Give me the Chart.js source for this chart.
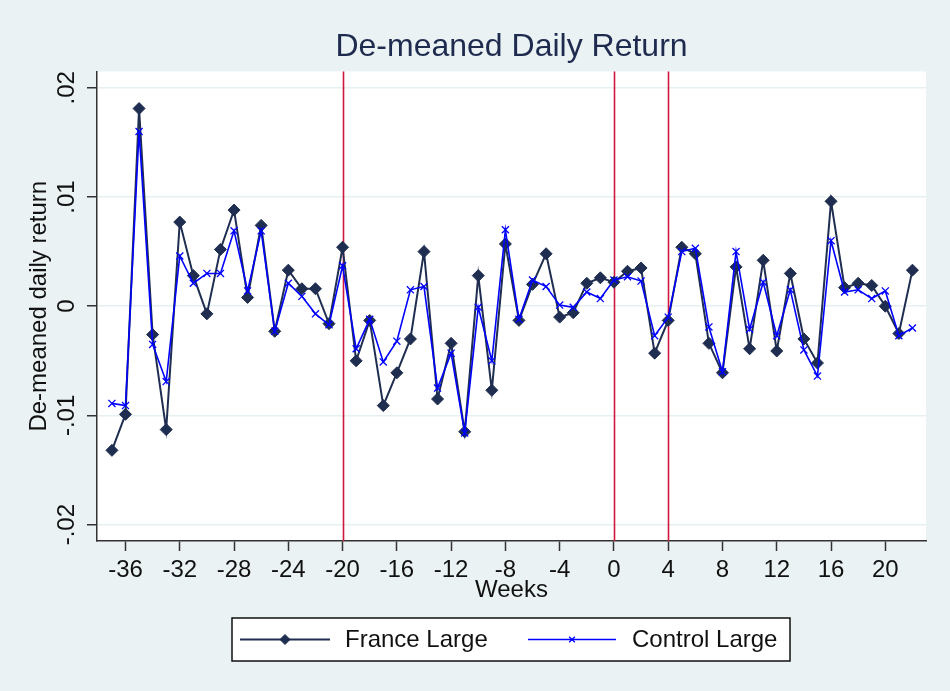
<!DOCTYPE html>
<html>
<head>
<meta charset="utf-8">
<script src="https://cdn.jsdelivr.net/npm/chart.js@4.4.1/dist/chart.umd.min.js"></script>
<style>
  body { margin: 0; background: #eaf2f3; }
  canvas { display: block; }
</style>
</head>
<body>
<canvas id="retChart" width="950" height="691"></canvas>
<script>
// weeks relative to the event
const weeks = [-37, -36, -35, -34, -33, -32, -31, -30, -29, -28, -27, -26, -25, -24, -23, -22, -21, -20, -19, -18,
  -17, -16, -15, -14, -13, -12, -11, -10, -9, -8, -7, -6, -5, -4, -3, -2, -1, 0, 1, 2,
  3, 4, 5, 6, 7, 8, 9, 10, 11, 12, 13, 14, 15, 16, 17, 18, 19, 20, 21, 22];

const franceLarge = [-0.0132, -0.0099, 0.0181, -0.0026, -0.0113, 0.0077, 0.0028, -0.0007, 0.0052, 0.0088,
  0.0008, 0.0074, -0.0023, 0.0033, 0.0016, 0.0016, -0.0016, 0.0054, -0.0050, -0.0013,
  -0.0091, -0.0061, -0.0030, 0.0050, -0.0085, -0.0034, -0.0115, 0.0028, -0.0077, 0.0057,
  -0.0013, 0.0020, 0.0048, -0.0010, -0.0006, 0.0021, 0.0026, 0.0022, 0.0032, 0.0035,
  -0.0043, -0.0013, 0.0054, 0.0048, -0.0034, -0.0061, 0.0036, -0.0039, 0.0042, -0.0041,
  0.0030, -0.0030, -0.0052, 0.0096, 0.0017, 0.0021, 0.0019, 0.0000, -0.0025, 0.0033];

const controlLarge = [-0.0089, -0.0091, 0.0160, -0.0035, -0.0069, 0.0046, 0.0021, 0.0030, 0.0030, 0.0069,
  0.0014, 0.0069, -0.0023, 0.0021, 0.0009, -0.0007, -0.0017, 0.0037, -0.0039, -0.0012,
  -0.0051, -0.0032, 0.0015, 0.0018, -0.0075, -0.0043, -0.0116, -0.0001, -0.0050, 0.0070,
  -0.0012, 0.0024, 0.0018, 0.0001, -0.0001, 0.0013, 0.0007, 0.0024, 0.0027, 0.0023,
  -0.0027, -0.0010, 0.0050, 0.0053, -0.0019, -0.0060, 0.0050, -0.0021, 0.0022, -0.0027,
  0.0015, -0.0040, -0.0064, 0.0060, 0.0013, 0.0015, 0.0007, 0.0014, -0.0027, -0.0020];

const xTicks = [-36, -32, -28, -24, -20, -16, -12, -8, -4, 0, 4, 8, 12, 16, 20];
const yTicks = [-0.02, -0.01, 0, 0.01, 0.02];
const yTickLabels = ['-.02', '-.01', '0', '.01', '.02'];
const eventWeeks = [-20, 0, 4];

const FONT = '"Liberation Sans", Arial, sans-serif';
const navy = '#1f2e50';
const blue = '#0000ff';

const toPoints = vals => weeks.map((w, i) => ({ x: w, y: vals[i] }));

// backgrounds, red event lines, rotated y labels, boxed legend
const decor = {
  id: 'decor',
  beforeDraw(chart) {
    const { ctx, chartArea: a } = chart;
    ctx.save();
    ctx.fillStyle = '#eaf2f3';
    ctx.fillRect(0, 0, chart.width, chart.height);
    ctx.fillStyle = '#ffffff';
    ctx.fillRect(a.left, a.top, a.right - a.left, a.bottom - a.top);
    ctx.restore();
  },
  beforeDatasetsDraw(chart) {
    const { ctx, chartArea: a } = chart;
    const xs = chart.scales.x;
    ctx.save();
    ctx.strokeStyle = '#d0173f';
    ctx.lineWidth = 1.6;
    eventWeeks.forEach(w => {
      const px = Math.round(xs.getPixelForValue(w)) + 0.5;
      ctx.beginPath();
      ctx.moveTo(px, a.top);
      ctx.lineTo(px, a.bottom);
      ctx.stroke();
    });
    ctx.restore();
  },
  afterDraw(chart) {
    const { ctx, chartArea: a } = chart;
    const ys = chart.scales.y;
    ctx.save();
    ctx.fillStyle = '#111';
    ctx.font = '24px ' + FONT;
    ctx.textAlign = 'center';
    ctx.textBaseline = 'middle';
    yTicks.forEach((v, i) => {
      ctx.save();
      ctx.translate(a.left - 30, ys.getPixelForValue(v));
      ctx.rotate(-Math.PI / 2);
      ctx.fillText(yTickLabels[i], 0, 0);
      ctx.restore();
    });

    // legend box
    const bx = 232, by = 618, bw = 558, bh = 43;
    ctx.fillStyle = '#ffffff';
    ctx.fillRect(bx, by, bw, bh);
    ctx.strokeStyle = '#111';
    ctx.lineWidth = 1.5;
    ctx.strokeRect(bx, by, bw, bh);
    const cy = by + bh / 2;
    const items = [
      { ds: chart.data.datasets[0], x0: 240, x1: 330, tx: 345 },
      { ds: chart.data.datasets[1], x0: 528, x1: 616, tx: 632 }
    ];
    items.forEach(it => {
      ctx.strokeStyle = it.ds.borderColor;
      ctx.lineWidth = it.ds.borderWidth;
      ctx.beginPath();
      ctx.moveTo(it.x0, cy);
      ctx.lineTo(it.x1, cy);
      ctx.stroke();
      ctx.fillStyle = it.ds.borderColor;
      ctx.lineWidth = it.ds.pointBorderWidth;
      Chart.helpers.drawPoint(ctx, {
        pointStyle: it.ds.pointStyle,
        radius: it.ds.pointRadius - 1,
        borderWidth: it.ds.pointBorderWidth,
        rotation: 0
      }, (it.x0 + it.x1) / 2, cy);
      ctx.fillStyle = '#111';
      ctx.textAlign = 'left';
      ctx.fillText(it.ds.label, it.tx, cy + 1);
    });
    ctx.restore();
  }
};

const retChart = new Chart(document.getElementById('retChart'), {
  type: 'line',
  data: {
    datasets: [{
      label: 'France Large',
      data: toPoints(franceLarge),
      borderColor: navy,
      backgroundColor: navy,
      borderWidth: 2,
      pointStyle: 'rectRot',
      pointRadius: 6,
      pointBorderWidth: 1,
      pointBackgroundColor: navy,
      pointBorderColor: navy,
      tension: 0,
      order: 2
    }, {
      label: 'Control Large',
      data: toPoints(controlLarge),
      borderColor: blue,
      backgroundColor: blue,
      borderWidth: 1.6,
      pointStyle: 'crossRot',
      pointRadius: 5,
      pointBorderWidth: 1.3,
      pointBorderColor: blue,
      tension: 0,
      order: 1
    }]
  },
  options: {
    responsive: false,
    animation: false,
    devicePixelRatio: 1,
    layout: { padding: { left: 0, right: 24, top: 0, bottom: 80 } },
    plugins: {
      legend: { display: false },
      tooltip: { enabled: false },
      title: {
        display: true,
        fullSize: false,
        text: 'De-meaned Daily Return',
        color: '#1e2b4f',
        font: { family: FONT, size: 32, weight: 'normal' },
        padding: { top: 28, bottom: 5 }
      }
    },
    scales: {
      x: {
        type: 'linear',
        min: -38.1,
        max: 23,
        afterBuildTicks: s => { s.ticks = xTicks.map(v => ({ value: v })); },
        afterFit: s => { s.height = 70; },
        ticks: {
          autoSkip: false,
          maxRotation: 0,
          padding: 5,
          color: '#111',
          font: { family: FONT, size: 24 }
        },
        grid: { drawOnChartArea: false, tickLength: 10, tickColor: '#333', tickWidth: 1.5 },
        border: { display: true, color: '#333', width: 1.5 },
        title: {
          display: true,
          text: 'Weeks',
          color: '#111',
          font: { family: FONT, size: 24 },
          padding: { top: 0, bottom: 6 }
        }
      },
      y: {
        min: -0.0215,
        max: 0.0215,
        afterBuildTicks: s => { s.ticks = yTicks.map(v => ({ value: v })); },
        afterFit: s => { s.width = 97; },
        ticks: { display: false },
        grid: { color: '#e6eff1', lineWidth: 1.5, tickLength: 10, tickColor: '#333', tickWidth: 1.5 },
        border: { display: true, color: '#333', width: 1.5 },
        title: {
          display: true,
          text: 'De-meaned daily return',
          color: '#111',
          font: { family: FONT, size: 24 },
          padding: { top: 25, bottom: 0 }
        }
      }
    }
  },
  plugins: [decor]
});
</script>
</body>
</html>
